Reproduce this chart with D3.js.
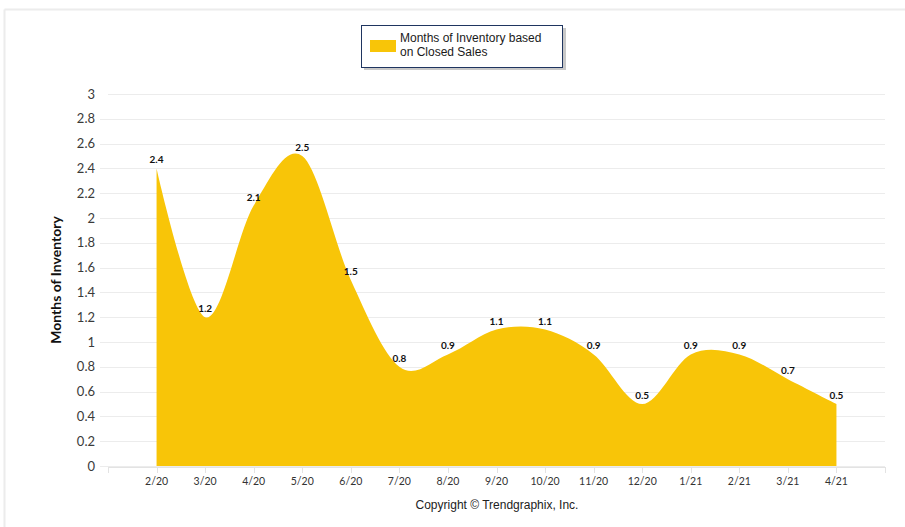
<!DOCTYPE html>
<html><head><meta charset="utf-8">
<script src="https://cdn.jsdelivr.net/npm/d3@7"></script>
<style>
html,body{margin:0;padding:0;background:#fff;}
svg{display:block;}
</style></head>
<body>
<svg id="chart" width="905" height="527"></svg>
<script>
const categories = ["2/20","3/20","4/20","5/20","6/20","7/20","8/20","9/20","10/20","11/20","12/20","1/21","2/21","3/21","4/21"];
const values = [2.4,1.2,2.1,2.5,1.5,0.8,0.9,1.1,1.1,0.9,0.5,0.9,0.9,0.7,0.5];
const yTicks = [0,0.2,0.4,0.6,0.8,1,1.2,1.4,1.6,1.8,2,2.2,2.4,2.6,2.8,3];
const seriesName = ["Months of Inventory based","on Closed Sales"];
const yTitle = "Months of Inventory";
const footer = "Copyright © Trendgraphix, Inc.";

const svg = d3.select("#chart");
const pLeft = 108, pRight = 885, pTop = 94, pBottom = 466;

// outer frame (top + left light border)
svg.append("line").attr("x1",4.5).attr("x2",905).attr("y1",9.5).attr("y2",9.5).attr("stroke","#ececec").attr("stroke-width",2);
svg.append("line").attr("x1",4.5).attr("x2",4.5).attr("y1",9.5).attr("y2",527).attr("stroke","#ececec").attr("stroke-width",2);

const x = d3.scalePoint().domain(categories).range([pLeft,pRight]).padding(1);
const y = d3.scaleLinear().domain([0,3]).range([pBottom,pTop]);

// gridlines
svg.append("g").selectAll("line").data(yTicks).join("line")
  .attr("x1",d=>d===3?108:100).attr("x2",pRight)
  .attr("y1",d=>Math.round(y(d))+0.5).attr("y2",d=>Math.round(y(d))+0.5)
  .attr("stroke","#ececec").attr("stroke-width",1);

// y tick labels
svg.append("g").selectAll("text").data(yTicks).join("text")
  .attr("x",95).attr("y",d=>y(d)).attr("dy","0.35em")
  .attr("text-anchor","end")
  .attr("font-family","Lato, 'Open Sans', sans-serif").attr("font-size",13)
  .attr("fill","#3a3a3a")
  .text(d=>d3.format("~g")(d));

// area
const area = d3.area()
  .x((d,i)=>x(categories[i]))
  .y0(y(0))
  .y1(d=>y(d))
  .curve(d3.curveCardinal.tension(0));
svg.append("path").datum(values).attr("d",area).attr("fill","#F8C508");

// x axis line + ticks
svg.append("line").attr("x1",pLeft).attr("x2",pRight).attr("y1",467.5).attr("y2",467.5).attr("stroke","#e3e3e3");
const tickXs = [pLeft, ...categories.map(c=>x(c)), pRight];
svg.append("g").selectAll("line").data(tickXs).join("line")
  .attr("x1",d=>Math.round(d)+0.5).attr("x2",d=>Math.round(d)+0.5)
  .attr("y1",467).attr("y2",473).attr("stroke","#e3e3e3");

// x labels
svg.append("g").selectAll("text").data(categories).join("text")
  .attr("x",d=>x(d)).attr("y",485)
  .attr("text-anchor","middle")
  .attr("font-family","Lato, 'Open Sans', sans-serif").attr("font-size",10.5)
  .attr("fill","#333")
  .text(d=>d);

// data labels
svg.append("g").selectAll("text").data(values).join("text")
  .attr("x",(d,i)=>x(categories[i])).attr("y",d=>y(d)-5)
  .attr("text-anchor","middle")
  .attr("font-family","Lato, 'Open Sans', sans-serif").attr("font-size",10).attr("font-weight","bold")
  .attr("fill","#111")
  .text(d=>d3.format(".1f")(d));

// y title
svg.append("text")
  .attr("transform",`translate(61,${(pTop+pBottom)/2}) rotate(-90)`)
  .attr("text-anchor","middle")
  .attr("font-family","Lato, 'Open Sans', sans-serif").attr("font-size",14).attr("font-weight","bold")
  .attr("fill","#111")
  .text(yTitle);

// legend
const lg = svg.append("g");
lg.append("rect").attr("x",364).attr("y",28).attr("width",202).attr("height",42).attr("fill","#c8c8c8");
lg.append("rect").attr("x",361.5).attr("y",25.5).attr("width",201).attr("height",42).attr("fill","#fff").attr("stroke","#1f3560").attr("stroke-width",1);
lg.append("rect").attr("x",370).attr("y",40).attr("width",26).attr("height",12).attr("fill","#F8C508");
lg.append("g").selectAll("text").data(seriesName).join("text")
  .attr("x",400).attr("y",(d,i)=>42+i*14)
  .attr("font-family","'Liberation Sans', Arial, sans-serif").attr("font-size",12)
  .attr("fill","#1a1a1a")
  .text(d=>d);

// footer
svg.append("text").attr("x",497).attr("y",509).attr("text-anchor","middle")
  .attr("font-family","'Liberation Sans', Arial, sans-serif").attr("font-size",12)
  .attr("fill","#222").text(footer);
</script>
</body></html>
